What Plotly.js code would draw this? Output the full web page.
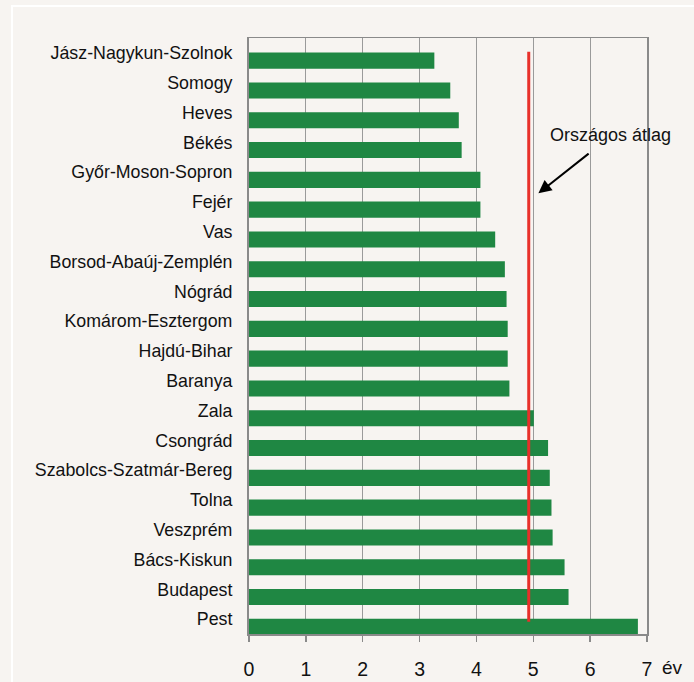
<!DOCTYPE html>
<html>
<head>
<meta charset="utf-8">
<script src="https://cdn.plot.ly/plotly-3.0.1.min.js"></script>
<style>
  html, body { margin: 0; padding: 0; background: #f7f4f1; }
  #frame { position: absolute; left: 11px; top: 5px; width: 700px; height: 700px;
           border-left: 2px solid #ffffff; border-top: 2px solid #ffffff; }
  #chart { position: absolute; left: 0; top: 0; width: 694px; height: 682px; }
</style>
</head>
<body>
<div id="frame"></div>
<div id="chart"></div>
<script>
// Counties, top to bottom as shown
const counties = [
  "Jász-Nagykun-Szolnok", "Somogy", "Heves", "Békés", "Győr-Moson-Sopron",
  "Fejér", "Vas", "Borsod-Abaúj-Zemplén", "Nógrád", "Komárom-Esztergom",
  "Hajdú-Bihar", "Baranya", "Zala", "Csongrád", "Szabolcs-Szatmár-Bereg",
  "Tolna", "Veszprém", "Bács-Kiskun", "Budapest", "Pest"
];
// Values (év)
const values = [
  3.26, 3.54, 3.69, 3.74, 4.07,
  4.07, 4.33, 4.50, 4.53, 4.55,
  4.55, 4.58, 5.01, 5.26, 5.29,
  5.32, 5.34, 5.55, 5.62, 6.84
];
// National average
const nationalAverage = 4.92;
const averageLabel = "Országos átlag";
const xTickValues = [0, 1, 2, 3, 4, 5, 6, 7];
const unitLabel = "év";

const font = "Liberation Sans, Arial, sans-serif";

const trace = {
  type: "bar",
  orientation: "h",
  x: values,
  y: counties,
  width: 0.54,
  offset: -0.01,
  marker: { color: "#1f8743", line: { width: 0 } },
  hoverinfo: "x+y"
};

const layout = {
  width: 694,
  height: 682,
  margin: { l: 249, r: 47, t: 38, b: 48 },
  paper_bgcolor: "rgba(0,0,0,0)",
  plot_bgcolor: "rgba(0,0,0,0)",
  showlegend: false,
  font: { family: font, size: 18, color: "#111111" },
  xaxis: {
    range: [0, 7],
    tickvals: xTickValues,
    ticktext: xTickValues.map(String),
    showgrid: true,
    gridcolor: "#9a9a9a",
    gridwidth: 1,
    showline: true,
    linecolor: "#8a8a8a",
    linewidth: 1.5,
    mirror: true,
    ticks: "outside",
    ticklen: 6,
    tickcolor: "#8a8a8a",
    tickwidth: 1.5,
    ticklabelstandoff: 11,
    tickfont: { family: font, size: 19.5, color: "#111111" },
    zeroline: false,
    fixedrange: true
  },
  yaxis: {
    type: "category",
    categoryorder: "array",
    categoryarray: counties,
    range: [19.5, -0.5],
    showgrid: false,
    showline: true,
    linecolor: "#8a8a8a",
    linewidth: 2,
    mirror: true,
    ticks: "",
    ticklabelstandoff: 11,
    tickfont: { family: font, size: 17.8, color: "#111111" },
    zeroline: false,
    fixedrange: true
  },
  shapes: [
    {
      type: "line",
      xref: "x", yref: "y",
      x0: nationalAverage, x1: nationalAverage,
      y0: -0.04, y1: 19.09,
      line: { color: "#e8302a", width: 3 }
    }
  ],
  annotations: [
    {
      xref: "x", yref: "y",
      x: 6.36, y: 2.76,
      text: averageLabel,
      showarrow: false,
      font: { family: font, size: 18, color: "#111111" },
      xanchor: "center", yanchor: "middle"
    },
    {
      xref: "x", yref: "y", axref: "x", ayref: "y",
      x: 5.09, y: 4.71,
      ax: 6.0, ay: 3.34,
      text: "",
      showarrow: true,
      arrowhead: 2,
      arrowsize: 1.3,
      arrowwidth: 2,
      arrowcolor: "#000000",
      standoff: 0, startstandoff: 0
    },
    {
      xref: "paper", yref: "paper",
      x: 1.063, y: -0.0555,
      text: unitLabel,
      showarrow: false,
      font: { family: font, size: 19, color: "#111111" },
      xanchor: "center", yanchor: "middle"
    }
  ]
};

Plotly.newPlot("chart", [trace], layout, { displayModeBar: false, staticPlot: true });
</script>
</body>
</html>
